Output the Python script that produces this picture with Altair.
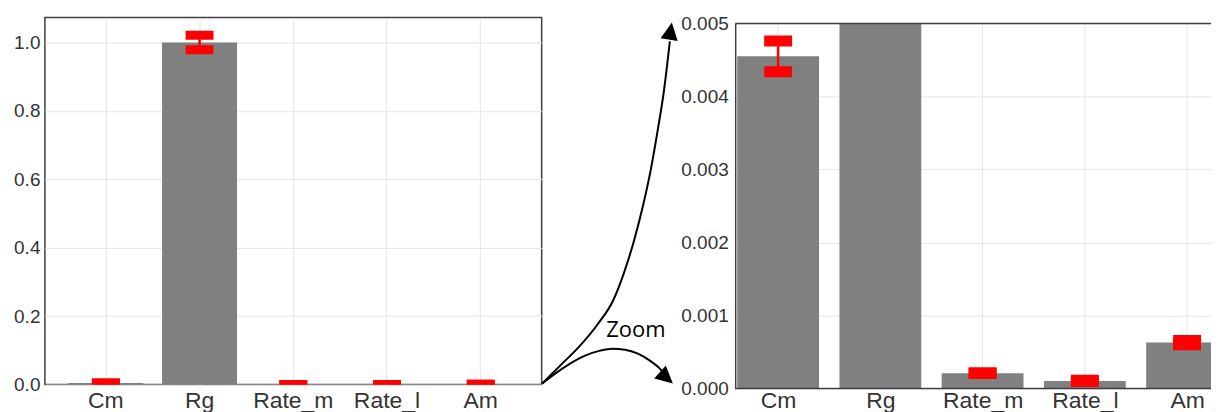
import altair as alt
import pandas as pd

# ---------------- data ----------------
categories = ["Cm", "Rg", "Rate_m", "Rate_l", "Am"]
means = [0.00455, 1.0, 0.00021, 0.000105, 0.00063]
errors = [0.00021, 0.021, 0.000005, 0.00001, 0.00003]

left_ticks = [0.0, 0.2, 0.4, 0.6, 0.8, 1.0]
right_ticks = [0.0, 0.001, 0.002, 0.003, 0.004, 0.005]
LEFT_YMAX = 1.073
RIGHT_YMAX = 0.005
RIGHT_XMIN = -0.42   # zoomed panel x-limits (category index units)
RIGHT_XMAX = 4.234

# annotation arrows (reference pixel space of the gap between panels)
up_arrow_x = [542, 560, 580, 598, 613, 624, 634, 643, 651, 658, 664, 670]
up_arrow_y = [383, 365, 345, 323, 300, 272, 240, 205, 168, 128, 90, 40]
right_arrow_x = [542, 555, 570, 585, 600, 612, 625, 638, 650, 660, 665]
right_arrow_y = [383, 373, 363, 355, 350, 348, 349, 353, 360, 368, 374]
head_x = [672, 673]
head_y = [21, 383]
head_angle = [9, 132]
zoom_label = ["Zoom"]
zoom_label_x = [636]
zoom_label_y = [336]

# ---------------- styling ----------------
FONT = "Liberation Sans"
LABEL_COLOR = "#333333"
GRID = "#e6e6e6"
FRAME = "#404040"
BAR = "#808080"
ERR = "#ff0000"
XFS = 23
YFS = 19

LEFT_W, LEFT_H = 498, 368
MID_W = 193.5
RIGHT_W, RIGHT_H = 477, 372

df = pd.DataFrame({
    "category": categories,
    "idx": list(range(len(categories))),
    "mean": means,
    "lo": [m - e for m, e in zip(means, errors)],
    "hi": [m + e for m, e in zip(means, errors)],
})

# ---------------- left panel ----------------
xl = alt.X(
    "category:N", sort=categories, title=None,
    scale=alt.Scale(paddingInner=0.2, paddingOuter=0.25),
    axis=alt.Axis(labelAngle=0, labelFontSize=XFS, labelPadding=5, domain=False,
                  ticks=False, grid=True, bandPosition=0.5, gridColor=GRID,
                  labelColor=LABEL_COLOR, labelFont=FONT),
)
yl_scale = alt.Scale(domain=[0, LEFT_YMAX], nice=False, zero=True)

left_bars = alt.Chart(df).mark_bar(color=BAR, clip=True).encode(
    x=xl,
    y=alt.Y("mean:Q", scale=yl_scale, title=None,
            axis=alt.Axis(values=left_ticks, format=".1f", labelFontSize=YFS,
                          labelPadding=5, domain=False, ticks=False, grid=True,
                          gridColor=GRID, labelColor=LABEL_COLOR, labelFont=FONT)),
)
left_rule = alt.Chart(df).mark_rule(color=ERR, strokeWidth=2.5, clip=True).encode(
    x=alt.X("category:N", sort=categories),
    y=alt.Y("lo:Q", title=None),
    y2="hi:Q",
)
left_caps = alt.Chart(df).transform_fold(["lo", "hi"], as_=["end", "val"]).mark_tick(
    color=ERR, thickness=9, size=28, opacity=1, clip=True
).encode(
    x=alt.X("category:N", sort=categories),
    y=alt.Y("val:Q", title=None),
)
left = alt.layer(left_bars, left_rule, left_caps).properties(
    width=LEFT_W, height=LEFT_H,
    view=alt.ViewBackground(stroke=FRAME, strokeWidth=1.5),
)

# ---------------- middle annotation ----------------
arrows = pd.DataFrame({
    "x": up_arrow_x + right_arrow_x,
    "y": up_arrow_y + right_arrow_y,
    "arrow": ["up"] * len(up_arrow_x) + ["right"] * len(right_arrow_x),
})
heads = pd.DataFrame({"x": head_x, "y": head_y, "angle": head_angle})
label = pd.DataFrame({"x": zoom_label_x, "y": zoom_label_y, "t": zoom_label})

mx = alt.Scale(domain=[541.5, 541.5 + MID_W], range=[0, MID_W])
my = alt.Scale(domain=[16, 16 + RIGHT_H], range=[0, RIGHT_H])

mid_lines = alt.Chart(arrows).mark_line(color="black", strokeWidth=2, interpolate="monotone").encode(
    x=alt.X("x:Q", scale=mx, axis=None),
    y=alt.Y("y:Q", scale=my, axis=None),
    detail="arrow:N",
)
mid_heads = alt.Chart(heads).mark_point(
    shape="M0,0 L-1,2 L1,2 Z", filled=True, color="black", size=300, opacity=1
).encode(
    x=alt.X("x:Q", scale=mx, axis=None),
    y=alt.Y("y:Q", scale=my, axis=None),
    angle=alt.Angle("angle:Q", scale=None),
)
mid_text = alt.Chart(label).mark_text(
    font="Open Sans", fontSize=22, align="center", baseline="alphabetic", color="black"
).encode(
    x=alt.X("x:Q", scale=mx, axis=None),
    y=alt.Y("y:Q", scale=my, axis=None),
    text="t:N",
)
middle = alt.layer(mid_lines, mid_heads, mid_text).properties(
    width=MID_W, height=RIGHT_H,
    view=alt.ViewBackground(stroke="transparent"),
)

# ---------------- right panel (zoom) ----------------
label_expr = "[" + ",".join("'%s'" % c for c in categories) + "][datum.value]"
xr_scale = alt.Scale(domain=[RIGHT_XMIN, RIGHT_XMAX], nice=False, zero=False)
xr_axis = alt.Axis(values=list(range(len(categories))), labelExpr=label_expr,
                   labelAngle=0, labelFontSize=XFS, labelPadding=1, domain=False,
                   ticks=False, grid=False, labelColor=LABEL_COLOR, labelFont=FONT,
                   labelFlush=False, labelOverlap=False)
yr_scale = alt.Scale(domain=[0, RIGHT_YMAX], range=[RIGHT_H, 6], nice=False, zero=True)

right_grid = alt.Chart(df).transform_calculate(z="0", top=str(RIGHT_YMAX)).mark_rule(
    color=GRID, strokeWidth=1
).encode(
    x=alt.X("idx:Q", scale=xr_scale, title=None, axis=xr_axis),
    y=alt.Y("z:Q", scale=yr_scale, title=None,
            axis=alt.Axis(values=right_ticks, format=".3f", labelFontSize=YFS,
                          labelPadding=7, domain=True, domainColor=FRAME,
                          domainWidth=1.5, ticks=False, grid=True, gridColor=GRID,
                          labelColor=LABEL_COLOR, labelFont=FONT)),
    y2="top:Q",
)

right_bars = alt.Chart(df).transform_calculate(
    shown="min(datum.mean, %s)" % RIGHT_YMAX,
    base="0",
    x0="datum.idx - 0.4",
    x1="min(datum.idx + 0.4, %s)" % RIGHT_XMAX,
).mark_bar(color=BAR, clip=True).encode(
    x=alt.X("x0:Q", title=None),
    x2="x1:Q",
    y=alt.Y("shown:Q", title=None),
    y2="base:Q",
)
right_rule = alt.Chart(df).mark_rule(color=ERR, strokeWidth=2.5, clip=True).encode(
    x=alt.X("idx:Q", title=None),
    y=alt.Y("lo:Q", title=None),
    y2="hi:Q",
)
right_caps = alt.Chart(df).transform_fold(["lo", "hi"], as_=["end", "val"]).mark_tick(
    color=ERR, thickness=11, size=28, opacity=1, clip=True, orient="horizontal"
).encode(
    x=alt.X("idx:Q", title=None),
    y=alt.Y("val:Q", title=None),
)
frame_df = pd.DataFrame({"y": [0.0, RIGHT_YMAX]})
right_frame = alt.Chart(frame_df).mark_rule(color=FRAME, strokeWidth=1.5).encode(
    y=alt.Y("y:Q", title=None),
)
right = alt.layer(right_grid, right_bars, right_rule, right_caps, right_frame).properties(
    width=RIGHT_W, height=RIGHT_H,
    view=alt.ViewBackground(stroke="transparent"),
)

chart = alt.hconcat(left, middle, right, spacing=0, bounds="flush").properties(
    padding={"left": 4, "top": 5, "right": 0, "bottom": 0},
    background="white",
).configure_view(stroke="transparent")

chart.save("out.html", embed_options={"renderer": "svg", "actions": False})
